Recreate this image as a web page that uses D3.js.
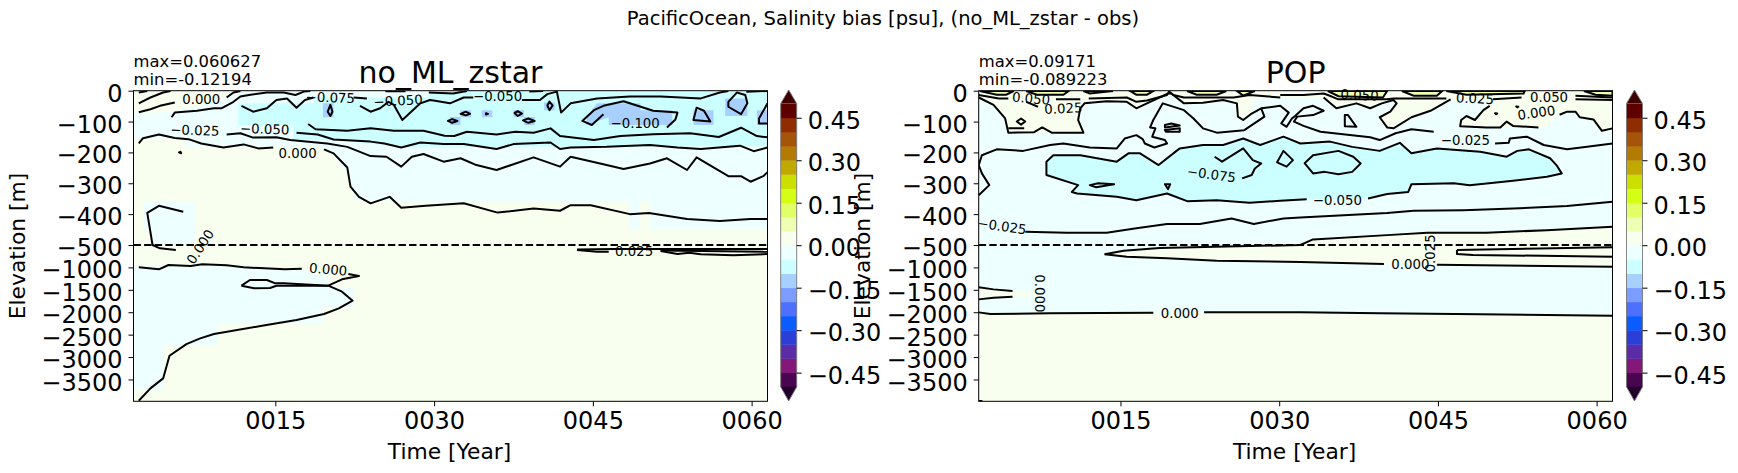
<!DOCTYPE html>
<html><head><meta charset="utf-8">
<script src="https://cdn.jsdelivr.net/npm/d3@7"></script>
<style>html,body{margin:0;padding:0;background:#fff}svg{display:block}text{font-family:"DejaVu Sans";fill:#000}</style>
</head><body><svg id="c" width="1738" height="473"></svg>
<script>
// ---------- Shared axis data ----------
const yearTicks=[15,30,45,60];
const depthTicks=[0,-100,-200,-300,-400,-500,-1000,-1500,-2000,-2500,-3000,-3500];
const yearDomain=[1.6,61.5];
const depthBreaks=[0,-500,-3987];
const colorLevels=[-0.5,-0.45,-0.4,-0.35,-0.3,-0.25,-0.2,-0.15,-0.1,-0.05,0,0.05,0.1,0.15,0.2,0.25,0.3,0.35,0.4,0.45,0.5];
const levelColors=["#4a0550","#841878","#5a2ca8","#2a3ed8","#0a5cff","#4d70ff","#7d9cff","#a8d0ff","#ccffff","#eeffff","#f8ffee","#eeffb4","#e2ff66","#d4ff14","#cbe000","#c0aa00","#b47b04","#a55409","#8f2d00","#5f0000"];
const underColor="#22002c", overColor="#3f0000";
const colorbarTicks=[-0.45,-0.3,-0.15,0,0.15,0.3,0.45];

// ---------- no_ML_zstar: filled regions [year, depth below surface] ----------
const zstarFills=[
 {v:-0.025,pts:[[1.6,0],[61.5,0],[61.5,452],[50.4,452],[50.4,360],[49.4,360],[49.4,452],[48.5,452],[48.5,360],[26.8,360],[22.5,355],[21.8,268],[20.5,209],[19.2,182],[6.5,182],[6.5,155],[1.6,155]]},
 {v:-0.025,pts:[[2.5,360],[7.4,360],[7.4,510],[3.4,510],[3.4,452],[2.5,452]]},
 {v:-0.025,pts:[[1.6,949],[12.9,949],[17.35,1043],[20,1207],[20,1430],[22.4,1430],[22.4,1891],[19.6,1891],[19.6,2248],[9.5,2248],[9.5,2732],[4.4,2732],[4.4,3721],[1.6,3721]]},
 {v:0.025,pts:[[1.6,0],[10.7,0],[10.4,25],[5.4,68],[1.6,74]]},
 {v:-0.075,pts:[[11.5,41],[18.6,41],[18.6,19],[22,22],[29.6,22],[29.6,0],[61.5,0],[61.5,180],[26.8,182],[20.5,160],[16.7,160],[16.7,111],[11.5,111]]},
 {v:-0.125,pts:[[19.5,41],[20.5,41],[20.5,86],[19.5,86]]},
 {v:-0.125,pts:[[31.5,85],[32.5,85],[32.5,111],[31.5,111]]},
 {v:-0.125,pts:[[32.5,63],[33.5,63],[33.5,86],[32.5,86]]},
 {v:-0.125,pts:[[34.5,63],[35.5,63],[35.5,86],[34.5,86]]},
 {v:-0.125,pts:[[37.5,63],[38.5,63],[38.5,86],[37.5,86]]},
 {v:-0.125,pts:[[38.5,85],[39.5,85],[39.5,111],[38.5,111]]},
 {v:-0.125,pts:[[40.4,38],[41.4,38],[41.4,63],[40.4,63]]},
 {v:-0.125,pts:[[45.4,41],[49.5,41],[49.5,63],[52.5,63],[52.5,111],[46.5,111],[46.5,86],[44.4,111],[44.4,86]]},
 {v:-0.125,pts:[[57.5,25],[59.6,25],[59.6,82],[57.5,82]]},
 {v:-0.125,pts:[[54.5,63],[56.4,63],[56.4,111],[54.5,111]]},
 {v:-0.125,pts:[[60.5,63],[61.5,63],[61.5,111],[60.5,111]]}
];
// ---------- no_ML_zstar: open contour lines ----------
const zstarLines=[
 [[2.1,6],[2.9,1]],
 [[2.1,41],[3.2,22],[4.4,6],[5.1,1]],
 [[2.1,70],[3.2,60],[4.1,49],[5.5,38]],
 [[10.4,22],[11.05,6],[11.7,1]],
 [[5.2,86],[5.5,71],[7.6,65],[9.2,57],[9.9,57],[11.05,36],[11.7,19],[12.5,14],[14.2,6],[15.8,6],[16.9,14],[17.7,3],[18.3,1]],
 [[11.8,49],[12.9,68],[14.2,57],[15.1,30],[16.1,25],[17,55],[17.8,30],[18.6,22]],
 [[22.4,22],[23.65,25]],
 [[23,49],[24,68],[24.9,57],[25.7,36],[26.2,46],[27,95],[28.7,41],[29.6,30],[29.95,32],[31.5,41],[32.8,22],[33.7,22]],
 [[38.3,30],[40,30],[40.7,11],[41.6,3],[42,71],[42.9,41],[45.4,25],[48.5,19],[51.4,19],[55.2,25],[57,6],[57.8,1]],
 [[59.5,3],[61.5,1]],[[39,3],[40.3,1]],[[29.5,6],[31.8,9],[33.1,1]],[[25.4,1.5],[27.3,1.5]],
 [[18.1,108],[18.8,125],[21.8,130],[24,122],[26.2,130],[29,130],[31,146],[31.9,147],[33.1,133],[35.9,142],[37.7,133],[39.4,136],[41,122],[41.9,147],[45.1,160],[47.6,147],[50.7,141],[54.2,138],[56.9,150],[59,120],[60.5,147],[61.5,151]],
 [[17,136],[19,142],[20.5,158],[24,165],[25.3,171],[26.9,184],[28.7,168],[30.9,173],[32.8,173],[35.9,189],[37.5,173],[41,168],[41.9,189],[42.9,184],[46.3,182],[50.4,176],[53,184],[55.2,189],[58.9,178],[60.2,196],[61.5,184]],
 [[10.4,142],[11.7,138],[12.9,152],[15.1,151],[16.4,160],[19.9,171],[21.8,182],[24,212],[25.5,214],[26.9,246],[27.9,214],[29,205],[30.9,230],[32.5,219],[34,241],[35.9,257],[39.4,216],[41.9,246],[42.9,214],[46.3,241],[47.9,254],[50.4,236],[52,219],[53.9,257],[54.8,216],[57.8,277],[59,277],[59.9,295],[61.1,277],[61.5,264]],
 [[2.1,171],[2.5,154],[4,142],[5.5,153],[6.8,157],[8,171],[10.1,184],[12,174],[13.4,187],[14.8,184]],
 [[19.6,190],[20.5,203],[21.8,249],[22.1,311],[22.9,344],[24,365],[25.8,344],[26.9,379],[29.2,373],[29.95,371],[32.8,365],[36,395],[39.4,382],[41.9,389],[42.9,371],[44.8,371],[48.5,400],[50.3,396],[53.9,416],[57,422],[59.9,416],[61.5,416]],
 [[6.3,392],[4,373],[2.9,396],[3.4,500],[4.1,574],[5.6,612]],
 [[2.1,998],[4,1043],[4.9,946],[7,969],[8.1,932],[10.4,954],[12,998],[15.9,1043],[17.5,1028]],
 [[21.9,1147],[22.9,1192],[21.3,1266],[20,1408],[21.3,1542],[22.3,1743],[21,1914],[19.6,2040],[17,2174],[13.6,2308],[9.2,2487],[7.9,2584],[6.6,2710],[5,2970],[4.4,3476],[3.2,3699],[2.1,3974]],
 [[11.8,1408],[12.6,1281],[14.2,1281],[15,1356],[15.8,1356],[20,1408]],
 [[11.8,1408],[13,1467],[14.5,1460],[15.1,1408],[20,1408]],
 [[43.5,600],[47,592],[61.5,590]],
 [[43.5,612],[45.4,649],[46.5,649]],
 [[51.4,634],[53,701],[54.1,671],[55.2,708],[58.3,731],[61.5,701]],
 [[51.4,620],[61.5,650]],
 [[52,119],[52.8,93],[53,71],[50.7,65],[47.9,34],[46,49],[45.1,63],[44,98],[44.9,111],[46,76]],
 [[61.5,41],[60.7,90],[60.7,106],[61.5,106]]
];
const zstarLoops=[
 [[57.8,36],[58.6,6],[59.4,14],[59.6,41],[59,76],[57.8,52]],
 [[54.5,95],[54.8,55],[55.5,65],[56.1,100]],
 [[31.3,98],[31.7,92],[32.2,98],[31.7,104]],
 [[32.5,75],[33,68],[33.4,75],[33,80]],
 [[34.9,73],[35.1,75],[34.9,77]],
 [[37.6,72],[37.9,66],[38.3,74],[37.9,82]],
 [[38.4,96],[38.9,90],[39.5,98],[38.9,104]],
 [[40.7,48],[40.9,35],[41.2,48],[40.9,63]],
 [[19.95,68],[20.2,46],[20.4,68],[20.2,82]],
 [[5.9,200],[6.05,198],[6.1,203]]
];
const zstarLabels=[
 {t:"0.000",y:8,d:28,r:0},{t:"−0.025",y:7.4,d:128,r:2},{t:"−0.050",y:14,d:124,r:2},{t:"0.000",y:17.1,d:201,r:0},
 {t:"−0.075",y:20.2,d:22,r:2},{t:"−0.050",y:26.6,d:32,r:-3},{t:"−0.050",y:36,d:17,r:0},{t:"−0.100",y:49,d:106,r:0},
 {t:"0.000",y:7.9,d:537,r:-57},{t:"0.000",y:20,d:1043,r:5},{t:"0.025",y:48.9,d:640,r:0}
];

// ---------- POP: filled regions ----------
const popFills=[
 {v:-0.025,pts:[[1.6,0],[61.5,0],[61.5,2080],[30,2040],[1.6,2030]]},
 {v:0.025,pts:[[1.6,1445],[4.8,1527],[7.4,1527],[7.4,1653],[4.8,1653],[1.6,1713]]},
 {v:0.025,pts:[[13.5,708],[15.3,626],[18.7,567],[32,500],[33.2,482],[40.2,468],[44,460],[49.6,460],[55.3,452],[61.5,441],[61.5,984],[44.9,939],[42.4,924],[39.9,924],[32,880],[24.1,850],[19.4,798],[15.6,760]]},
 {v:0.025,pts:[[1.6,0],[61.5,0],[61.5,122],[60.5,130],[59.7,93],[58.4,86],[58,68],[57.2,68],[56.5,78],[55,119],[47.1,119],[47.2,95],[47.7,82],[48.5,95],[49.3,63],[49.9,49],[49.9,28],[46.2,28],[44.3,65],[42.5,86],[40.8,122],[40.2,119],[39.5,86],[40.5,68],[41.1,41],[40.8,30],[39.7,41],[38.6,57],[37.3,41],[35.4,57],[34.2,22],[30.1,22],[27.6,25],[27.4,74],[26.6,95],[26.1,84],[26,41],[24.7,30],[22.8,39],[21,41],[19.8,9],[19.5,9],[19.2,14],[17.5,41],[16.5,57],[15.6,36],[13.7,34],[11.6,41],[11.2,57],[11,95],[11.5,136],[4.4,136],[4.1,90],[3,46],[1.6,22]]},
 {v:-0.075,pts:[[32.6,352],[30.1,357],[27.2,363],[24.1,355],[21.3,358],[19.4,333],[16.5,355],[14.65,344],[10.9,333],[10.4,328],[11,306],[8,273],[8,230],[8.65,209],[11.2,209],[14.65,230],[15.75,203],[16.85,203],[18.6,241],[20.6,187],[22.8,176],[24.7,176],[26.6,155],[28.2,176],[30.4,149],[32,171],[34.8,165],[36.9,182],[39.5,195],[41.4,169],[42.5,203],[44.9,187],[49,198],[51.5,214],[52.5,195],[53.6,190],[55.6,219],[56.2,241],[56.7,268],[55.3,279],[52.1,292],[48,306],[46.5,300],[42.5,303],[42.2,328],[40.2,335],[38.4,349]]}
];
const popGreenLoops=[
 [[1.7,1],[3.3,13],[4.2,13],[4.9,1]],[[6.1,1],[7.1,13],[9.6,13],[10.1,1]],[[11.5,1],[12.1,9],[14.3,1]],
 [[15.9,1],[16.5,13],[17.5,13],[18.1,1]],[[21.3,1],[22.2,13],[24.1,13],[25,1]],[[26,1],[26.6,16],[27.7,1]],
 [[34.6,1],[35.6,18],[39.8,22],[40.2,1]],[[41.6,1],[42.7,16],[44.9,16],[45.4,1]],[[45.8,1],[47.7,13],[53.1,9],[53.2,1]],
 [[58.8,1],[59.9,13],[61.5,16],[61.5,1]]
];
const popLines=[
 [[1.6,14],[3.5,25],[4.4,25]],[[6.1,36],[7.2,52]],[[8.9,28],[11.2,28]],
 [[12,25],[15.6,22],[16.5,36],[17.5,32],[19.4,14],[19.6,3],[20,14],[21,22],[25.7,22],[27.2,14],[30.1,22]],
 [[30.1,14],[32.3,14],[34.2,9],[34.6,14],[35.6,28],[40.2,28],[40.8,25],[45.8,25]],
 [[50.2,28],[52.9,22]],[[58,16],[61.5,22]],[[58,28],[61.5,30]],
 [[1.6,22],[3,46],[4.1,90],[4.4,136],[6.8,135],[7.6,119],[8.5,136],[11.5,136],[11,95],[11.2,57],[11.6,41],[13.7,34],[15.6,36],[16.5,57],[17.5,41],[19.2,14],[19.5,9],[19.8,9],[21,41],[22.8,39],[24.7,30],[26,41],[26.1,84],[26.6,95],[27.4,74],[28.3,57],[30.1,49],[30.9,71],[30.2,106],[30.7,117],[31.2,90],[31.5,82],[32.3,57],[33.2,49],[34.2,65],[33.2,79],[31.7,84],[31.4,100],[32.3,114],[33.9,133],[38.6,151],[39.5,160],[41,138],[42.5,125],[44.6,133]],
 [[1.6,339],[2.6,306],[1.9,268],[1.6,241],[1.9,209],[3.3,190],[5.8,195],[8.35,176],[9.6,171],[12.1,184],[14.65,187],[15.4,155],[16.5,144],[17.1,157],[17.3,171],[18.2,184],[19.4,171],[19.2,160],[18,149],[18.3,122],[17.8,119],[18.1,95],[19,41],[21,63],[21.9,90],[22.8,122],[24.1,136],[26.7,128],[28.6,84],[28.3,57]],
 [[6,457],[9.9,460],[13.7,460],[16.5,446],[19.4,432],[22.5,432],[25.5,414],[27.6,432],[30.4,414],[32,411],[40.2,396],[42.7,389],[47.4,387],[52.1,382],[57.2,374],[61.5,360]],
 [[32.6,352],[30.1,357],[27.2,363],[24.1,355],[21.3,358],[19.4,333],[16.5,355],[14.65,344],[10.9,333],[10.4,328],[11,306],[8,273],[8,230],[8.65,209],[11.2,209],[14.65,230],[15.75,203],[16.85,203],[18.6,241],[20.6,187],[22.8,176],[24.7,176],[26.6,155],[28.2,176],[30.4,149],[32,171],[34.8,165],[36.9,182],[39.5,195],[41.4,169],[42.5,203],[44.9,187],[49,198],[51.5,214],[52.5,195],[53.6,190],[55.6,219],[56.2,241],[56.7,268],[55.3,279],[52.1,292],[48,306],[46.5,300],[42.5,303],[42.2,328],[40.2,335],[38.4,349]],
 [[26.5,284],[27.4,273],[27.7,252],[28.3,236],[27.5,225],[26.6,187],[24.6,230],[23.9,214]],
 [[4.4,122],[5.9,122]],
 [[34.2,22],[35.4,57],[37.3,41],[38.6,57],[39.7,41],[40.8,30],[41.1,41],[40.5,68],[39.5,86],[40.2,119],[40.8,122],[42.5,86],[44.3,65],[46.2,28]],
 [[49.9,49],[49.3,63],[48.5,95],[47.7,82],[47.2,95],[47.1,115],[49.6,119],[50.9,119],[51.5,100],[52.1,114],[54.5,119]],
 [[56.5,78],[57.2,68],[58,68],[58.4,86],[59.7,93],[60.5,130],[61.5,122]],
 [[50.4,171],[51.7,169],[51.8,155],[53.4,149],[55,176],[57.2,190],[59.1,182],[61.5,171]],
 [[46.8,612],[61.5,552]],
 [[46.8,612],[46.8,701],[48.3,723],[61.5,760]],
 [[1.6,2003],[2.7,2040],[8.3,2025],[18.1,2010]],
 [[22.9,2003],[32,2003],[39.5,2025],[49,2047],[61.5,2077]],
 [[1.6,1445],[3,1490],[4.8,1527]],[[1.6,1713],[3,1676],[4.8,1653]],
 [[13.5,708],[15.3,626],[18.7,567],[32,500],[33.2,482],[40.2,468],[44,460],[49.6,460],[55.3,452],[61.5,441]],
 [[13.5,708],[15.6,760],[19.4,798],[24.1,850],[32,880],[39.9,924]],
 [[44.9,939],[61.5,984]],
 [[1.6,3982],[1.95,3982]]
];
const popLoops=[
 [[30.4,195],[31.3,225],[30.7,246],[29.8,232]],
 [[32.4,235],[33.2,209],[35.6,195],[37,214],[37.7,236],[36.9,263],[35.6,271],[34.3,263],[33.2,268]],
 [[12.1,306],[12.9,300],[14.4,303],[12.7,313]],
 [[19.2,303],[19.7,303],[19.5,319]],
 [[19.2,111],[19.8,106],[20.6,113],[19.2,119]],
 [[19.2,127],[20.6,122],[20.6,133],[19.3,133]],
 [[5.2,100],[5.6,90],[6,100],[5.6,110]],
 [[36.2,79],[36.5,79],[37.3,117],[36.2,115]],
 [[50.4,73],[50.6,74],[50.5,76]],[[52.4,51],[52.6,52],[52.5,54]]
];
const popLabels=[
 {t:"0.050",y:6.55,d:25,r:5},{t:"0.025",y:9.6,d:57,r:-3},{t:"−0.075",y:23.6,d:271,r:8},{t:"−0.025",y:3.8,d:439,r:8},
 {t:"0.050",y:37.6,d:14,r:3},{t:"0.025",y:48.5,d:25,r:3},{t:"0.050",y:55.5,d:20,r:0},{t:"0.000",y:54.3,d:71,r:-8},
 {t:"−0.025",y:47.6,d:160,r:0},{t:"−0.050",y:35.5,d:355,r:0},{t:"0.000",y:20.6,d:2025,r:0},{t:"0.000",y:42.4,d:924,r:0},
 {t:"0.025",y:44.3,d:686,r:-90},{t:"0.000",y:7.4,d:1579,r:90}
];

// ---------- Drawing ----------
const svg=d3.select("#c");
const colorOf=d3.scaleThreshold().domain(colorLevels.slice(1,-1)).range(levelColors);
const TICK=24, LABEL=21.8, contourW=2;
const minus=s=>String(s).replace("-","−");

function panel(o){
 const x=d3.scaleLinear().domain(yearDomain).range([o.left,o.right]);
 const y=d3.scaleLinear().domain(depthBreaks).range([o.top,245,o.bottom]);
 const px=p=>x(p[0]), py=p=>y(-p[1]);
 const id="clip"+o.key;
 svg.append("clipPath").attr("id",id).append("rect").attr("x",o.left).attr("y",o.top).attr("width",o.right-o.left).attr("height",o.bottom-o.top);
 const g=svg.append("g").attr("clip-path",`url(#${id})`);
 g.append("rect").attr("x",o.left).attr("y",o.top).attr("width",o.right-o.left).attr("height",o.bottom-o.top).attr("fill",colorOf(0.025));
 const closed=d3.line().x(px).y(py).curve(d3.curveLinearClosed), open=d3.line().x(px).y(py);
 g.selectAll("path.f").data(o.fills).join("path").attr("d",d=>closed(d.pts)).attr("fill",d=>colorOf(d.v));
 g.selectAll("path.g").data(o.green||[]).join("path").attr("d",closed).attr("fill",colorOf(0.075)).attr("stroke","#000").attr("stroke-width",contourW);
 g.selectAll("path.l").data(o.lines).join("path").attr("d",open).attr("fill","none").attr("stroke","#000").attr("stroke-width",contourW).attr("stroke-linejoin","round");
 g.selectAll("path.c").data(o.loops).join("path").attr("d",closed).attr("fill","none").attr("stroke","#000").attr("stroke-width",contourW).attr("stroke-linejoin","round");
 // reference depth
 g.append("path").attr("d",d3.line().x(px).y(py)([[yearDomain[0],500],[yearDomain[1],500]])).attr("stroke","#000").attr("stroke-width",2).attr("stroke-dasharray","7.4,3.2").attr("fill","none");
 svg.append("g").selectAll("text").data(o.labels).join("text").attr("font-size",13.3).attr("text-anchor","middle").attr("dy","0.36em")
   .attr("transform",d=>`translate(${x(d.y)},${y(-d.d)}) rotate(${d.r})`).text(d=>d.t);
 // spines and axes
 svg.append("rect").attr("x",o.left).attr("y",o.top).attr("width",o.right-o.left).attr("height",o.bottom-o.top).attr("fill","none").attr("stroke","#000").attr("stroke-width",1);
 const ax=svg.append("g").attr("transform",`translate(0,${o.bottom})`).call(d3.axisBottom(x).tickValues(yearTicks).tickFormat(d=>String(d).padStart(4,"0")).tickSize(5).tickPadding(6));
 const ay=svg.append("g").attr("transform",`translate(${o.left},0)`).call(d3.axisLeft(y).tickValues(depthTicks).tickFormat(minus).tickSize(5).tickPadding(6));
 [ax,ay].forEach(a=>{a.select(".domain").remove();a.selectAll("text").attr("font-size",TICK).attr("font-family","DejaVu Sans");a.selectAll("line").attr("stroke","#000");});
 ay.selectAll("text").attr("dy","0.44em");
 svg.append("text").attr("x",(o.left+o.right)/2-1).attr("y",458.6).attr("text-anchor","middle").attr("font-size",LABEL).text("Time [Year]");
 svg.append("text").attr("transform",`translate(${o.ylabelX},246) rotate(-90)`).attr("text-anchor","middle").attr("font-size",LABEL).text("Elevation [m]");
 svg.append("text").attr("x",(o.left+o.right)/2).attr("y",82.7).attr("text-anchor","middle").attr("font-size",30).text(o.title);
 svg.append("text").attr("x",o.left).attr("y",67).attr("font-size",16.4).text(o.maxText);
 svg.append("text").attr("x",o.left).attr("y",85).attr("font-size",16.4).text(o.minText);
 // colorbar
 const cy=d3.scaleLinear().domain([-0.5,0.5]).range([386.8,103.6]);
 const cb=svg.append("g");
 const cx0=o.cbLeft, cw=16;
 cb.selectAll("rect").data(levelColors).join("rect").attr("x",cx0).attr("width",cw)
   .attr("y",(d,i)=>cy(colorLevels[i+1])).attr("height",(d,i)=>cy(colorLevels[i])-cy(colorLevels[i+1])+0.4).attr("fill",d=>d);
 const tri=d3.line();
 cb.append("path").attr("d",tri([[cx0,cy(0.5)],[cx0+cw/2,90],[cx0+cw,cy(0.5)]])+"Z").attr("fill",overColor);
 cb.append("path").attr("d",tri([[cx0,cy(-0.5)],[cx0+cw/2,401],[cx0+cw,cy(-0.5)]])+"Z").attr("fill",underColor);
 cb.append("path").attr("d",tri([[cx0,cy(0.5)],[cx0+cw/2,90],[cx0+cw,cy(0.5)],[cx0+cw,cy(-0.5)],[cx0+cw/2,401],[cx0,cy(-0.5)]])+"Z").attr("fill","none").attr("stroke","#777").attr("stroke-width",0.9);
 const ca=svg.append("g").attr("transform",`translate(${cx0+cw},0)`).call(d3.axisRight(cy).tickValues(colorbarTicks).tickFormat(d=>minus(d3.format(".2f")(d))).tickSize(5).tickPadding(6));
 ca.select(".domain").remove();ca.selectAll("text").attr("font-size",TICK).attr("font-family","DejaVu Sans").attr("dy","0.44em");ca.selectAll("line").attr("stroke","#000");
}

panel({key:"a",left:133.5,right:767.5,top:90.7,bottom:401.3,title:"no_ML_zstar",maxText:"max=0.060627",minText:"min=-0.12194",ylabelX:25,cbLeft:780.7,fills:zstarFills,lines:zstarLines,loops:zstarLoops,labels:zstarLabels});
panel({key:"b",left:978.7,right:1612.5,top:90.7,bottom:401.3,title:"POP",maxText:"max=0.09171",minText:"min=-0.089223",ylabelX:870,cbLeft:1626.5,fills:popFills,green:popGreenLoops,lines:popLines,loops:popLoops,labels:popLabels});
svg.append("text").attr("x",883).attr("y",25).attr("text-anchor","middle").attr("font-size",19.5).text("PacificOcean, Salinity bias [psu], (no_ML_zstar - obs)");
</script></body></html>
